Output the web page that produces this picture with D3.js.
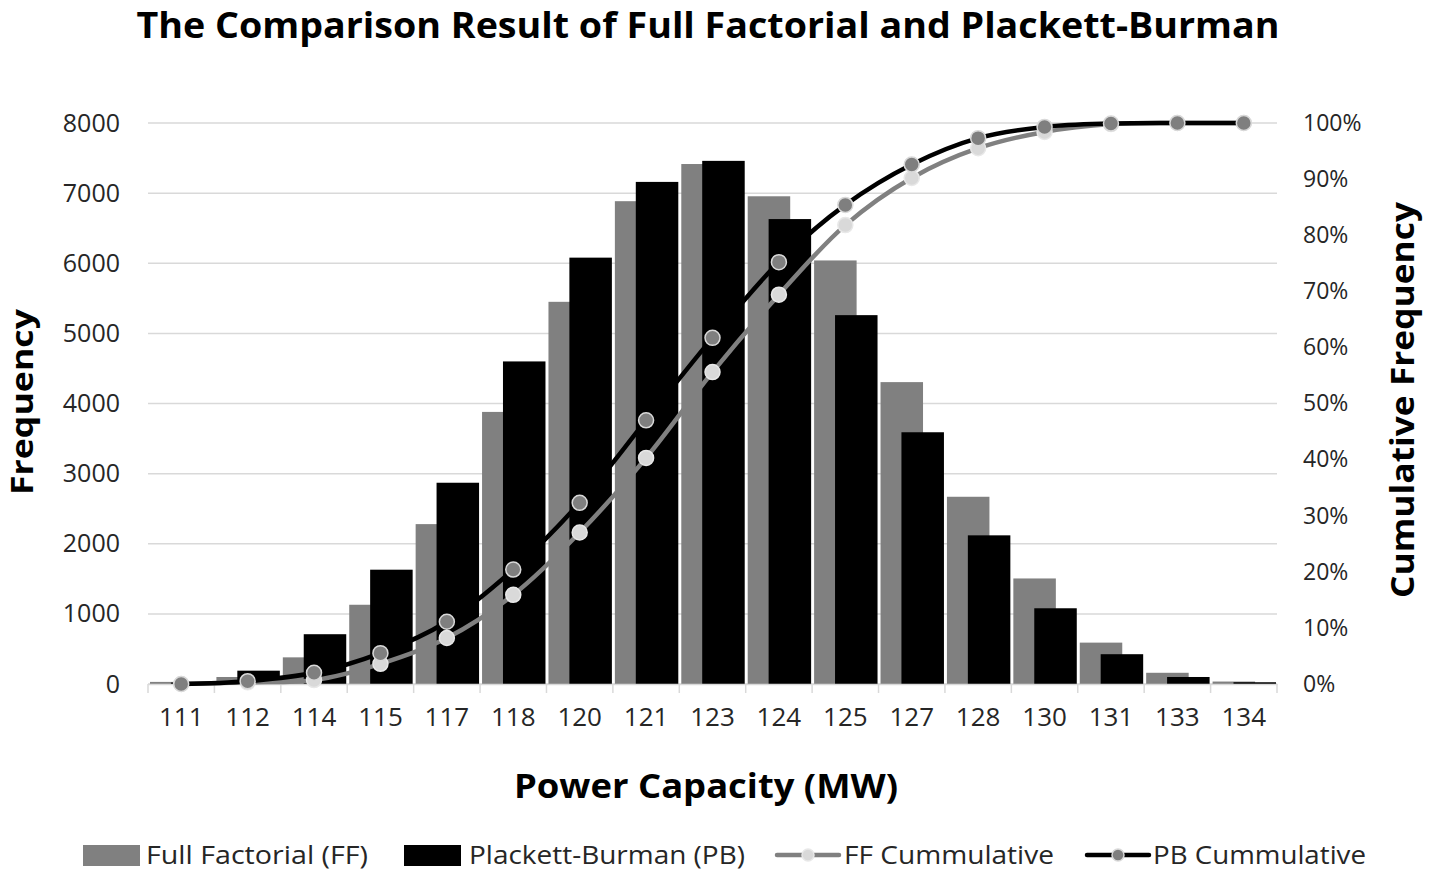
<!DOCTYPE html>
<html lang="en">
<head>
<meta charset="UTF-8">
<title>The Comparison Result of Full Factorial and Plackett-Burman</title>
<style>
    body {
        margin: 0;
        padding: 0;
        background-color: #fff;
        font-family: "Open Sans", Arial, sans-serif;
    }
    #chart text {
        font-family: "Open Sans", Arial, sans-serif;
    }
</style>
</head>
<body>
<svg id="chart" width="1429" height="876"></svg>

<script src="https://d3js.org/d3.v7.min.js"></script>
<script>
    // data
    const categories = ["111", "112", "114", "115", "117", "118", "120", "121", "123",
                        "124", "125", "127", "128", "130", "131", "133", "134"];
    const ffFreq = [30, 100, 380, 1130, 2280, 3880, 5450, 6885, 7415, 6955, 6040, 4305, 2670, 1505, 590, 160, 35];
    const pbFreq = [20, 190, 710, 1630, 2870, 4600, 6080, 7160, 7460, 6630, 5260, 3590, 2120, 1080, 425, 100, 25];
    const ffCum = [0.0, 0.3, 0.7, 3.6, 8.2, 15.9, 27.0, 40.3, 55.6, 69.4, 81.8, 90.2, 95.5, 98.4, 99.8, 100, 100];
    const pbCum = [0.0, 0.5, 2.0, 5.5, 11.1, 20.4, 32.3, 47.0, 61.7, 75.2, 85.4, 92.6, 97.3, 99.3, 99.9, 100, 100];
    const freqTicks = [0, 1000, 2000, 3000, 4000, 5000, 6000, 7000, 8000];
    const pctTicks = [0, 10, 20, 30, 40, 50, 60, 70, 80, 90, 100];

    const svg = d3.select("#chart");

    // plot area
    const plotL = 148, plotR = 1277, plotT = 123, plotB = 684;

    const xScale = d3.scaleBand()
      .domain(categories)
      .range([plotL, plotR])
      .padding(0);

    const yScale = d3.scaleLinear()
      .domain([0, 8000])
      .range([plotB, plotT]);

    const y2Scale = d3.scaleLinear()
      .domain([0, 100])
      .range([plotB, plotT]);

    const bw = xScale.bandwidth();
    const barW = bw * 0.64;

    // gridlines
    svg.append("g")
      .selectAll("line")
      .data(freqTicks)
      .join("line")
      .attr("x1", plotL)
      .attr("x2", plotR)
      .attr("y1", d => yScale(d))
      .attr("y2", d => yScale(d))
      .attr("stroke", "#d9d9d9")
      .attr("stroke-width", 1.5);

    // left axis labels
    const yAxis = d3.axisLeft(yScale).tickValues(freqTicks).tickSize(0).tickPadding(28)
      .tickFormat(d3.format("d"));
    const gy = svg.append("g")
      .attr("transform", `translate(${plotL}, 0)`)
      .call(yAxis);
    gy.select(".domain").remove();
    gy.selectAll("text")
      .attr("font-size", 25)
      .attr("fill", "#262626");

    // right axis labels
    const y2Axis = d3.axisRight(y2Scale).tickValues(pctTicks).tickSize(0).tickPadding(26)
      .tickFormat(d => d + "%");
    const gy2 = svg.append("g")
      .attr("transform", `translate(${plotR}, 0)`)
      .call(y2Axis);
    gy2.select(".domain").remove();
    gy2.selectAll("text")
      .attr("font-size", 23)
      .attr("fill", "#262626");

    // bars: FF behind, PB in front
    svg.append("g")
      .selectAll("rect")
      .data(ffFreq)
      .join("rect")
      .attr("x", (d, i) => xScale(categories[i]) + bw * 0.03)
      .attr("y", d => yScale(d))
      .attr("width", barW)
      .attr("height", d => plotB - yScale(d))
      .attr("fill", "#808080");

    svg.append("g")
      .selectAll("rect")
      .data(pbFreq)
      .join("rect")
      .attr("x", (d, i) => xScale(categories[i]) + bw * 0.345)
      .attr("y", d => yScale(d))
      .attr("width", barW)
      .attr("height", d => plotB - yScale(d))
      .attr("fill", "#000");

    // x axis
    const xAxis = d3.axisBottom(xScale).tickSize(0).tickPadding(24);
    const gx = svg.append("g")
      .attr("transform", `translate(0, ${plotB})`)
      .call(xAxis);
    gx.select(".domain").attr("stroke", "#d9d9d9").attr("stroke-width", 1.5);
    gx.selectAll("text")
      .attr("font-size", 26)
      .attr("fill", "#262626");

    // tick marks between categories
    const edges = categories.map(c => xScale(c)).concat([plotR]);
    svg.append("g")
      .selectAll("line")
      .data(edges)
      .join("line")
      .attr("x1", d => d)
      .attr("x2", d => d)
      .attr("y1", plotB)
      .attr("y2", plotB + 9)
      .attr("stroke", "#d9d9d9")
      .attr("stroke-width", 1.5);

    // cumulative lines
    const line = d3.line()
      .x((d, i) => xScale(categories[i]) + bw / 2)
      .y(d => y2Scale(d))
      .curve(d3.curveCatmullRom.alpha(0.5));

    function drawCum(values, lineColor, fill, stroke) {
      svg.append("path")
        .datum(values)
        .attr("d", line)
        .attr("fill", "none")
        .attr("stroke", lineColor)
        .attr("stroke-width", 4.5)
        .attr("stroke-linecap", "round");
      svg.append("g")
        .selectAll("circle")
        .data(values)
        .join("circle")
        .attr("cx", (d, i) => xScale(categories[i]) + bw / 2)
        .attr("cy", d => y2Scale(d))
        .attr("r", 7.5)
        .attr("fill", fill)
        .attr("stroke", stroke)
        .attr("stroke-width", 1.5);
    }
    drawCum(ffCum, "#808080", "#d9d9d9", "#e8e8e8");
    drawCum(pbCum, "#000", "#7f7f7f", "#d9d9d9");

    // titles
    svg.append("text")
      .attr("x", 708)
      .attr("y", 38)
      .attr("text-anchor", "middle")
      .attr("font-size", 35)
      .attr("font-weight", "bold")
      .attr("textLength", 1143)
      .attr("lengthAdjust", "spacingAndGlyphs")
      .text("The Comparison Result of Full Factorial and Plackett-Burman");

    svg.append("text")
      .attr("transform", "translate(33, 402) rotate(-90)")
      .attr("text-anchor", "middle")
      .attr("font-size", 30)
      .attr("font-weight", "bold")
      .attr("textLength", 186)
      .attr("lengthAdjust", "spacingAndGlyphs")
      .text("Frequency");

    svg.append("text")
      .attr("transform", "translate(1414, 400) rotate(-90)")
      .attr("text-anchor", "middle")
      .attr("font-size", 32)
      .attr("font-weight", "bold")
      .attr("textLength", 396)
      .attr("lengthAdjust", "spacingAndGlyphs")
      .text("Cumulative Frequency");

    svg.append("text")
      .attr("x", 706)
      .attr("y", 798)
      .attr("text-anchor", "middle")
      .attr("font-size", 34)
      .attr("font-weight", "bold")
      .attr("textLength", 384)
      .attr("lengthAdjust", "spacingAndGlyphs")
      .text("Power Capacity (MW)");

    // legend
    const legend = svg.append("g").attr("transform", "translate(0, 855)");
    const legendItems = [
      { label: "Full Factorial (FF)", type: "bar", color: "#808080", x: 83, tx: 146, tw: 222 },
      { label: "Plackett-Burman (PB)", type: "bar", color: "#000", x: 404, tx: 469, tw: 276 },
      { label: "FF Cummulative", type: "line", color: "#808080", fill: "#d9d9d9", stroke: "#e8e8e8", x: 777, tx: 844, tw: 210 },
      { label: "PB Cummulative", type: "line", color: "#000", fill: "#7f7f7f", stroke: "#d9d9d9", x: 1087, tx: 1153, tw: 213 }
    ];
    legendItems.forEach(function(it) {
      if (it.type === "bar") {
        legend.append("rect")
          .attr("x", it.x)
          .attr("y", -10)
          .attr("width", 57)
          .attr("height", 21)
          .attr("fill", it.color);
      } else {
        legend.append("line")
          .attr("x1", it.x)
          .attr("x2", it.x + 62)
          .attr("y1", 0)
          .attr("y2", 0)
          .attr("stroke", it.color)
          .attr("stroke-width", 4.5)
          .attr("stroke-linecap", "round");
        legend.append("circle")
          .attr("cx", it.x + 31)
          .attr("cy", 0)
          .attr("r", 6)
          .attr("fill", it.fill)
          .attr("stroke", it.stroke)
          .attr("stroke-width", 1.5);
      }
      legend.append("text")
        .attr("x", it.tx)
        .attr("y", 9)
        .attr("font-size", 25)
        .attr("fill", "#262626")
        .attr("textLength", it.tw)
        .attr("lengthAdjust", "spacingAndGlyphs")
        .text(it.label);
    });
</script>
</body>
</html>
